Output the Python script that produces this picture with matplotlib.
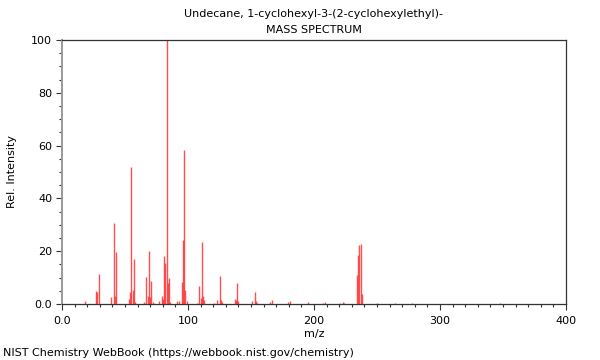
import matplotlib
matplotlib.use("Agg")
import matplotlib.pyplot as plt
from matplotlib.ticker import MultipleLocator, FixedLocator, FixedFormatter

title_line1 = "Undecane, 1-cyclohexyl-3-(2-cyclohexylethyl)-"
title_line2 = "MASS SPECTRUM"
x_label = "m/z"
y_label = "Rel. Intensity"
footer = "NIST Chemistry WebBook (https://webbook.nist.gov/chemistry)"

mz = [18, 27, 28, 29, 39, 41, 42, 43, 53, 54, 55, 56, 57, 58, 65, 67, 68, 69, 70, 71,
      72, 77, 79, 80, 81, 82, 83, 84, 85, 86, 91, 93, 95, 96, 97, 98, 99, 107, 109, 110,
      111, 112, 113, 121, 123, 125, 126, 127, 137, 138, 139, 140, 151, 153, 154, 155,
      165, 167, 179, 181, 195, 207, 209, 221, 223, 224, 234, 235, 236, 237, 238, 250,
      264, 278, 348]
intensity = [1.2, 4.8, 4.6, 11.2, 2.8, 30.8, 3.2, 19.8, 1.8, 4.6, 51.8, 5.2, 17.1, 0.8,
             0.6, 10.4, 3.2, 20.1, 2.5, 8.8, 0.8, 1.2, 3.1, 1.8, 18.2, 15.7, 100.0, 8.0,
             9.7, 0.6, 1.2, 1.0, 8.2, 24.1, 58.2, 5.2, 1.0, 0.5, 6.8, 2.4, 23.4, 3.0, 1.4,
             0.5, 1.6, 10.6, 1.5, 0.6, 1.8, 1.4, 7.8, 1.0, 1.2, 4.5, 1.0, 0.5, 0.6, 1.6,
             0.6, 1.0, 0.6, 0.4, 0.8, 0.5, 0.6, 0.4, 11.0, 18.4, 22.5, 22.8, 3.8, 0.5,
             0.4, 0.3, 0.3]

x_ticks = [0, 100, 200, 300, 400]
x_tick_labels = ["0.0", "100", "200", "300", "400"]
y_ticks = [0, 20, 40, 60, 80, 100]
y_tick_labels = ["0.0", "20", "40", "60", "80", "100"]

plt.rcParams['font.family'] = ['DejaVu Sans']
fig = plt.figure(figsize=(6, 3.6), dpi=100)
ax = fig.add_axes([62/600, 1-304/360, 504/600, 264/360])

ax.vlines(mz, 0, intensity, colors='#ff3030', linewidth=1.0, alpha=0.85)

ax.set_xlim(0, 400)
ax.set_ylim(0, 100)
ax.xaxis.set_major_locator(FixedLocator(x_ticks))
ax.xaxis.set_major_formatter(FixedFormatter(x_tick_labels))
ax.xaxis.set_minor_locator(MultipleLocator(10))
ax.yaxis.set_major_locator(FixedLocator(y_ticks))
ax.yaxis.set_major_formatter(FixedFormatter(y_tick_labels))
ax.yaxis.set_minor_locator(MultipleLocator(5))

ax.tick_params(axis='both', which='major', direction='out', length=4, width=0.8,
               colors='#333333', labelsize=8, labelcolor='black', pad=3)
ax.tick_params(axis='both', which='minor', direction='out', length=2.5, width=0.8,
               colors='#333333')
ax.tick_params(axis='x', which='major', pad=5)

for side in ['top', 'right', 'bottom']:
    ax.spines[side].set_color('#333333')
    ax.spines[side].set_linewidth(0.9)
ax.spines['left'].set_color('#999999')
ax.spines['left'].set_linewidth(1.4)

ax.set_xlabel(x_label, fontsize=8, labelpad=2)
ax.set_ylabel(y_label, fontsize=8, labelpad=10)

fig.text(314/600, 1-14/360, title_line1, ha='center', va='center', fontsize=8)
fig.text(314/600, 1-30/360, title_line2, ha='center', va='center', fontsize=8)
fig.text(3/600, 1-353/360, footer, ha='left', va='center', fontsize=8)

fig.savefig("out.png", dpi=100)
